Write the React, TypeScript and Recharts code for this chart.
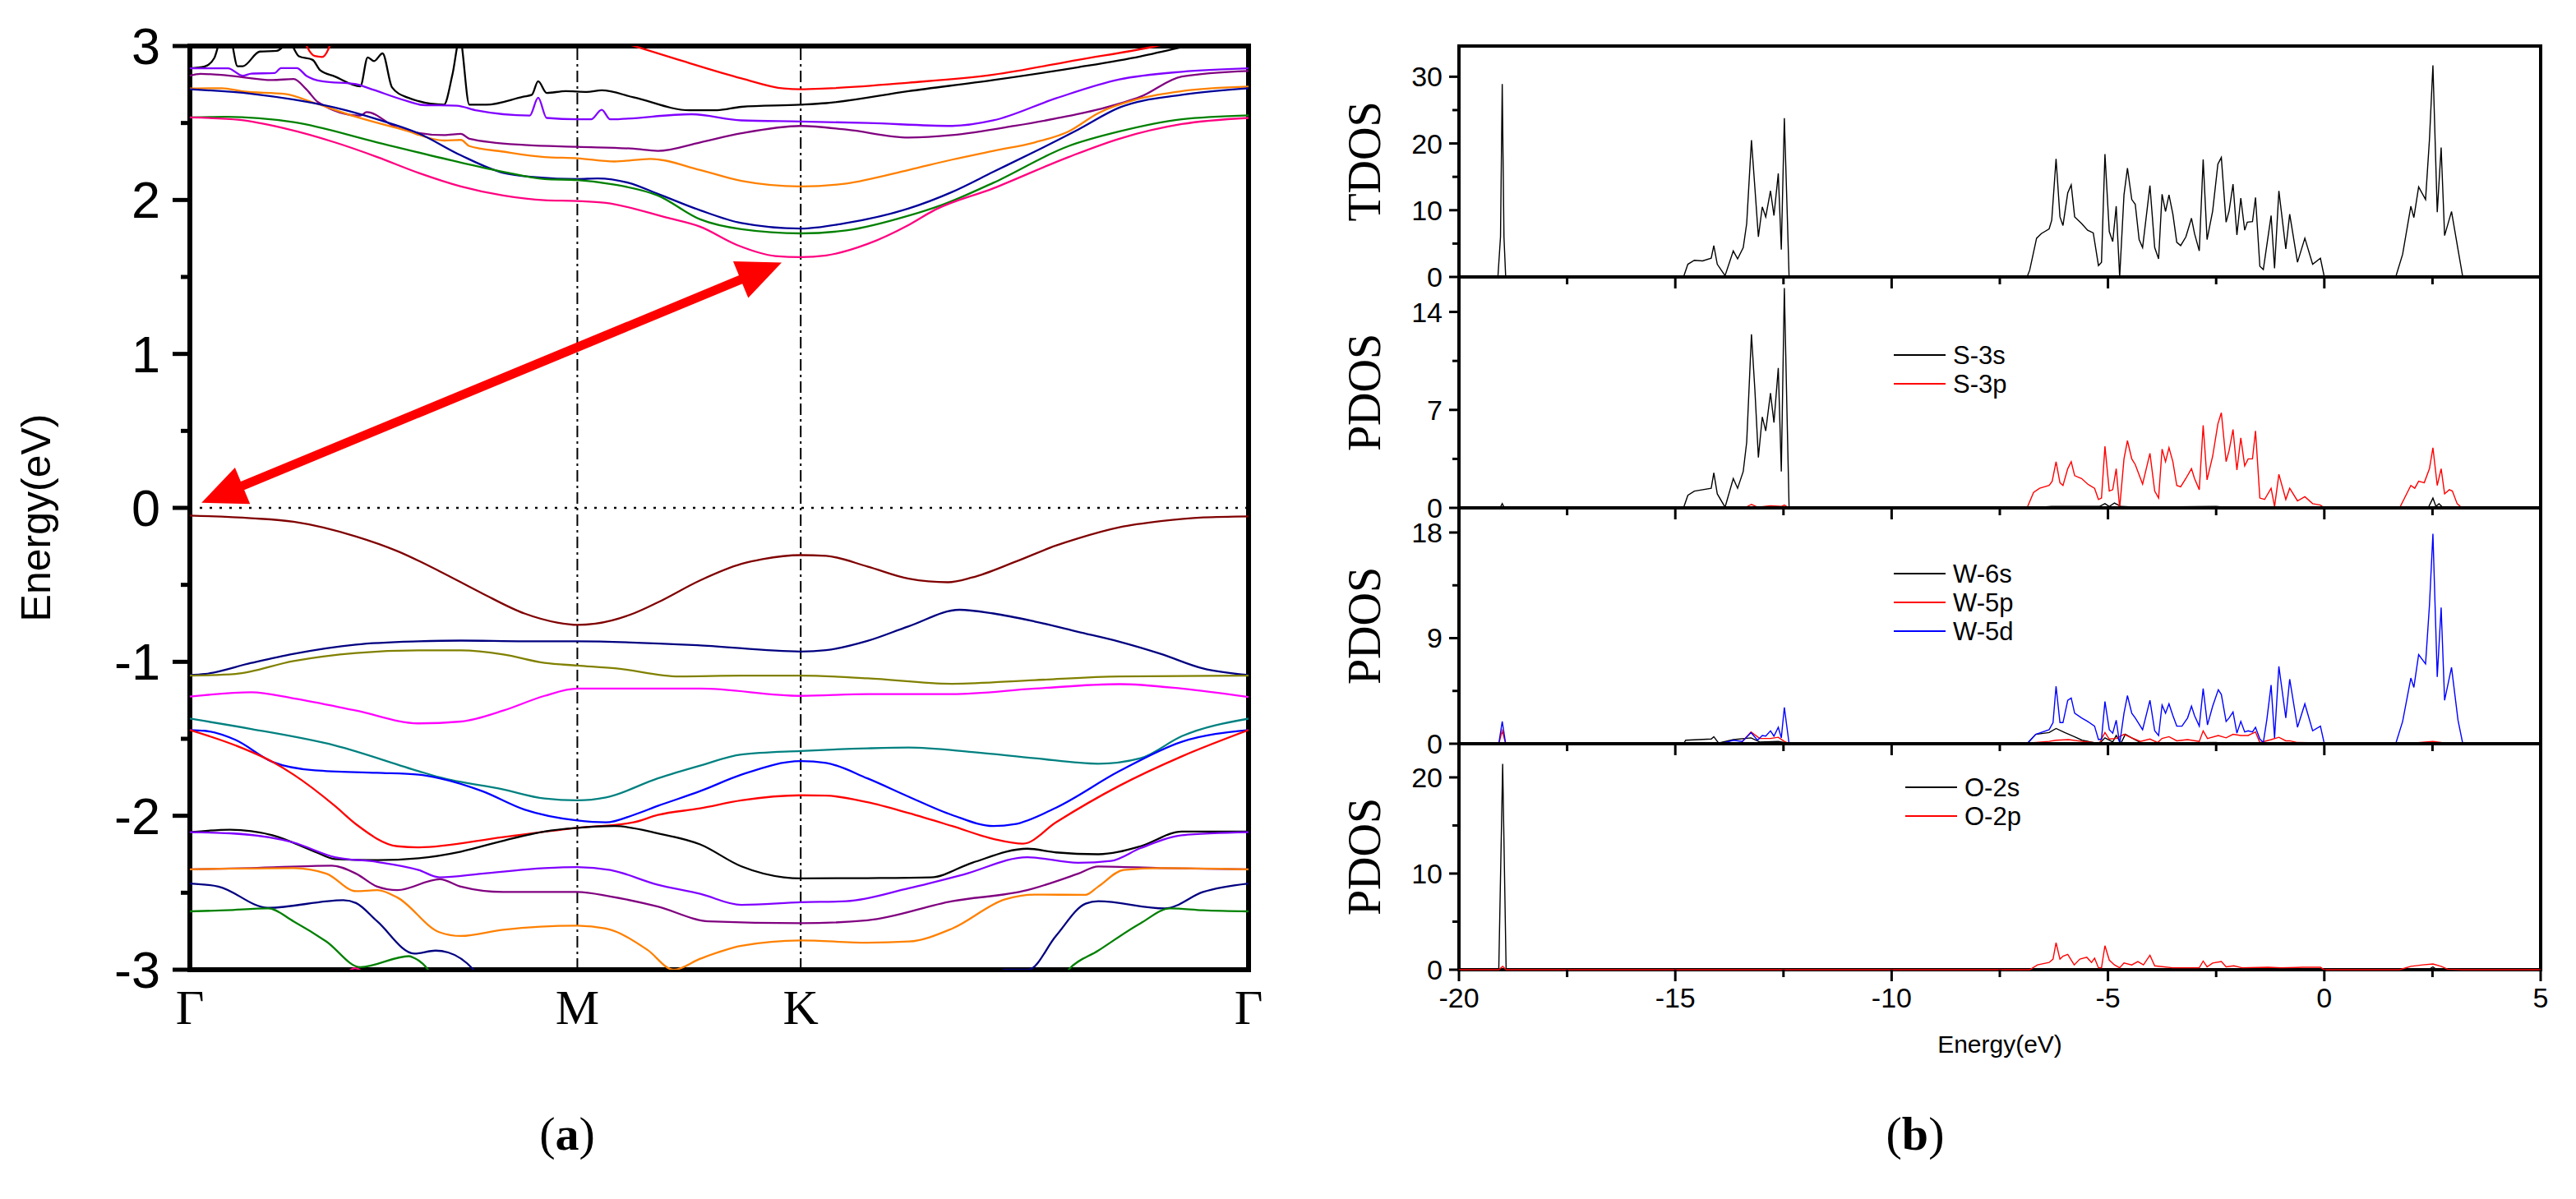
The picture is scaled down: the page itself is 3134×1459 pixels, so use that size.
import React from "react";
import {
  LineChart,
  Line,
  XAxis,
  YAxis,
  ReferenceLine,
  ReferenceArea,
  Legend,
} from "recharts";

const SANS = '"Liberation Sans", Arial, sans-serif';
const SERIF = '"Liberation Serif", "Times New Roman", serif';

type Pt = [number, number];
const pts = (a: Pt[]) => a.map(([x, y]) => ({ x, y }));

// ---------- (a) band structure ----------
const kTicks = [0, 0.366, 0.577, 1];
const kLabels = ["Γ", "M", "K", "Γ"];
const bandTicks = [-3, -2.5, -2, -1.5, -1, -0.5, 0, 0.5, 1, 1.5, 2, 2.5, 3];

// conduction bands
const cbPink: Pt[] = [[0,2.536],[0.047,2.52],[0.09,2.464],[0.137,2.374],[0.177,2.279],[0.216,2.176],[0.256,2.088],[0.296,2.029],[0.335,1.998],[0.366,1.993],[0.393,1.981],[0.45,1.886],[0.482,1.826],[0.517,1.707],[0.553,1.636],[0.577,1.629],[0.601,1.64],[0.64,1.714],[0.679,1.838],[0.703,1.933],[0.759,2.076],[0.83,2.279],[0.878,2.398],[0.937,2.493],[1,2.533]];
const cbGreen: Pt[] = [[0,2.536],[0.034,2.54],[0.098,2.505],[0.177,2.374],[0.256,2.243],[0.296,2.183],[0.335,2.136],[0.366,2.129],[0.401,2.1],[0.442,2.029],[0.482,1.874],[0.521,1.81],[0.577,1.783],[0.62,1.802],[0.679,1.898],[0.711,1.969],[0.759,2.112],[0.83,2.35],[0.878,2.445],[0.937,2.524],[1,2.55]];
const cbNavy: Pt[] = [[0,2.719],[0.058,2.69],[0.098,2.652],[0.137,2.6],[0.177,2.524],[0.216,2.433],[0.256,2.29],[0.296,2.176],[0.327,2.148],[0.366,2.136],[0.385,2.14],[0.414,2.112],[0.442,2.04],[0.482,1.933],[0.521,1.85],[0.577,1.814],[0.62,1.85],[0.679,1.945],[0.72,2.052],[0.759,2.183],[0.798,2.314],[0.839,2.457],[0.878,2.6],[0.937,2.683],[1,2.726]];
const cbOrange: Pt[] = [[0,2.724],[0.03,2.726],[0.05,2.705],[0.09,2.688],[0.118,2.629],[0.157,2.54],[0.201,2.457],[0.24,2.386],[0.256,2.39],[0.264,2.35],[0.296,2.314],[0.335,2.279],[0.366,2.271],[0.401,2.25],[0.435,2.267],[0.482,2.195],[0.521,2.124],[0.577,2.088],[0.62,2.107],[0.679,2.195],[0.72,2.262],[0.759,2.319],[0.798,2.374],[0.83,2.445],[0.858,2.564],[0.898,2.66],[0.937,2.707],[1,2.736]];
const cbPurple: Pt[] = [[0,2.807],[0.01,2.819],[0.034,2.81],[0.078,2.779],[0.098,2.786],[0.11,2.719],[0.121,2.636],[0.161,2.548],[0.167,2.571],[0.196,2.469],[0.24,2.421],[0.256,2.429],[0.264,2.398],[0.316,2.357],[0.366,2.345],[0.419,2.333],[0.442,2.319],[0.482,2.374],[0.521,2.433],[0.577,2.481],[0.62,2.457],[0.679,2.405],[0.72,2.421],[0.779,2.481],[0.818,2.529],[0.858,2.588],[0.898,2.671],[0.937,2.802],[1,2.838]];
const cbViolet: Pt[] = [[0,2.855],[0.036,2.855],[0.05,2.807],[0.058,2.821],[0.08,2.824],[0.086,2.857],[0.101,2.857],[0.11,2.807],[0.125,2.771],[0.157,2.752],[0.169,2.726],[0.205,2.643],[0.22,2.617],[0.252,2.612],[0.271,2.581],[0.321,2.548],[0.329,2.664],[0.337,2.533],[0.366,2.524],[0.379,2.524],[0.389,2.586],[0.397,2.524],[0.474,2.557],[0.521,2.517],[0.577,2.51],[0.64,2.5],[0.72,2.481],[0.759,2.517],[0.818,2.66],[0.878,2.783],[0.937,2.833],[1,2.855]];
const cbBlack: Pt[] = [[0,2.855],[0.014,2.867],[0.023,2.921],[0.03,3.05],[0.038,3.05],[0.045,2.869],[0.05,2.869],[0.066,2.964],[0.082,2.969],[0.094,3.02],[0.103,2.933],[0.116,2.91],[0.123,2.843],[0.137,2.802],[0.161,2.738],[0.168,2.926],[0.174,2.902],[0.182,2.952],[0.191,2.731],[0.205,2.667],[0.24,2.619],[0.248,2.814],[0.255,3.05],[0.264,2.619],[0.28,2.619],[0.315,2.671],[0.323,2.683],[0.329,2.771],[0.337,2.695],[0.355,2.707],[0.375,2.702],[0.389,2.712],[0.419,2.667],[0.472,2.583],[0.498,2.583],[0.521,2.605],[0.577,2.619],[0.601,2.629],[0.679,2.707],[0.759,2.779],[0.839,2.862],[0.898,2.933],[0.937,2.993],[1,3.1]];
const cbRedA: Pt[] = [[0.104,3.1],[0.118,2.935],[0.125,2.929],[0.137,3.1]];
const cbRedB: Pt[] = [[0.401,3.04],[0.462,2.91],[0.521,2.79],[0.561,2.724],[0.577,2.719],[0.601,2.724],[0.679,2.762],[0.759,2.814],[0.839,2.91],[0.913,3.0],[1,3.15]];

// valence bands
const vbMaroon: Pt[] = [[0,-0.05],[0.058,-0.067],[0.098,-0.09],[0.157,-0.186],[0.196,-0.281],[0.236,-0.412],[0.276,-0.555],[0.316,-0.686],[0.347,-0.745],[0.366,-0.76],[0.383,-0.752],[0.419,-0.686],[0.442,-0.614],[0.482,-0.471],[0.521,-0.364],[0.541,-0.333],[0.577,-0.307],[0.601,-0.312],[0.64,-0.381],[0.679,-0.46],[0.716,-0.483],[0.739,-0.452],[0.779,-0.352],[0.818,-0.245],[0.839,-0.198],[0.878,-0.126],[0.917,-0.086],[0.957,-0.062],[1,-0.055]];
const vbNavy: Pt[] = [[0,-1.086],[0.014,-1.079],[0.058,-1.007],[0.098,-0.948],[0.157,-0.888],[0.216,-0.867],[0.256,-0.862],[0.316,-0.867],[0.366,-0.867],[0.482,-0.893],[0.577,-0.933],[0.601,-0.924],[0.64,-0.864],[0.679,-0.769],[0.727,-0.662],[0.759,-0.686],[0.798,-0.738],[0.839,-0.805],[0.878,-0.869],[0.917,-0.948],[0.957,-1.043],[1,-1.086]];
const vbOlive: Pt[] = [[0,-1.09],[0.043,-1.079],[0.098,-0.995],[0.157,-0.943],[0.216,-0.926],[0.256,-0.926],[0.296,-0.952],[0.335,-1.007],[0.366,-1.024],[0.403,-1.043],[0.462,-1.095],[0.521,-1.09],[0.577,-1.09],[0.64,-1.107],[0.72,-1.143],[0.798,-1.119],[0.878,-1.095],[1,-1.09]];
const vbMagenta: Pt[] = [[0,-1.226],[0.058,-1.198],[0.098,-1.238],[0.157,-1.317],[0.216,-1.4],[0.256,-1.388],[0.296,-1.317],[0.335,-1.221],[0.366,-1.174],[0.482,-1.174],[0.577,-1.221],[0.64,-1.21],[0.72,-1.21],[0.798,-1.174],[0.878,-1.145],[0.937,-1.174],[1,-1.229]];
const vbTeal: Pt[] = [[0,-1.369],[0.058,-1.436],[0.137,-1.543],[0.216,-1.71],[0.236,-1.75],[0.296,-1.829],[0.335,-1.888],[0.366,-1.9],[0.393,-1.881],[0.442,-1.757],[0.482,-1.674],[0.521,-1.602],[0.577,-1.579],[0.64,-1.562],[0.679,-1.557],[0.739,-1.586],[0.798,-1.626],[0.858,-1.662],[0.898,-1.626],[0.937,-1.483],[1,-1.369]];
const vbBlue: Pt[] = [[0,-1.443],[0.014,-1.448],[0.043,-1.507],[0.078,-1.65],[0.118,-1.705],[0.177,-1.721],[0.216,-1.733],[0.236,-1.757],[0.276,-1.84],[0.316,-1.96],[0.366,-2.031],[0.393,-2.043],[0.419,-1.995],[0.442,-1.936],[0.482,-1.84],[0.521,-1.733],[0.577,-1.645],[0.601,-1.657],[0.64,-1.757],[0.679,-1.876],[0.72,-1.995],[0.759,-2.067],[0.779,-2.055],[0.818,-1.948],[0.878,-1.71],[0.937,-1.519],[1,-1.443]];
const vbRed: Pt[] = [[0,-1.443],[0.043,-1.543],[0.078,-1.65],[0.098,-1.733],[0.137,-1.936],[0.157,-2.055],[0.196,-2.198],[0.216,-2.205],[0.296,-2.138],[0.366,-2.079],[0.419,-2.043],[0.442,-1.995],[0.482,-1.952],[0.521,-1.9],[0.577,-1.867],[0.601,-1.869],[0.64,-1.912],[0.679,-1.983],[0.72,-2.067],[0.759,-2.15],[0.787,-2.181],[0.818,-2.043],[0.878,-1.805],[0.937,-1.614],[1,-1.443]];
const vbBlack: Pt[] = [[0,-2.107],[0.038,-2.09],[0.078,-2.126],[0.118,-2.233],[0.137,-2.281],[0.177,-2.288],[0.216,-2.276],[0.256,-2.233],[0.296,-2.162],[0.335,-2.102],[0.366,-2.079],[0.401,-2.067],[0.442,-2.114],[0.482,-2.186],[0.521,-2.329],[0.561,-2.4],[0.577,-2.407],[0.64,-2.405],[0.7,-2.4],[0.739,-2.305],[0.791,-2.214],[0.818,-2.238],[0.858,-2.25],[0.898,-2.198],[0.937,-2.102],[1,-2.102]];
const vbViolet: Pt[] = [[0,-2.107],[0.038,-2.114],[0.098,-2.174],[0.137,-2.269],[0.177,-2.3],[0.216,-2.352],[0.236,-2.4],[0.276,-2.376],[0.335,-2.34],[0.366,-2.333],[0.397,-2.352],[0.442,-2.448],[0.482,-2.507],[0.521,-2.579],[0.577,-2.562],[0.62,-2.555],[0.679,-2.471],[0.731,-2.381],[0.791,-2.269],[0.839,-2.305],[0.87,-2.293],[0.898,-2.21],[0.937,-2.126],[1,-2.107]];
const vbPurple: Pt[] = [[0,-2.348],[0.058,-2.34],[0.134,-2.324],[0.157,-2.376],[0.177,-2.46],[0.196,-2.483],[0.236,-2.412],[0.256,-2.46],[0.296,-2.495],[0.366,-2.495],[0.397,-2.524],[0.442,-2.59],[0.49,-2.686],[0.577,-2.698],[0.64,-2.679],[0.72,-2.555],[0.791,-2.483],[0.839,-2.376],[0.858,-2.329],[0.917,-2.34],[1,-2.348]];
const vbOrange: Pt[] = [[0,-2.348],[0.098,-2.34],[0.129,-2.376],[0.157,-2.49],[0.177,-2.483],[0.196,-2.531],[0.236,-2.757],[0.256,-2.781],[0.296,-2.74],[0.366,-2.714],[0.393,-2.733],[0.432,-2.87],[0.457,-3.0],[0.482,-2.929],[0.521,-2.845],[0.577,-2.81],[0.64,-2.824],[0.679,-2.817],[0.72,-2.733],[0.77,-2.543],[0.798,-2.512],[0.846,-2.514],[0.858,-2.46],[0.882,-2.352],[0.917,-2.34],[1,-2.348]];
const vbNavyLowA: Pt[] = [[0,-2.44],[0.027,-2.46],[0.074,-2.598],[0.145,-2.548],[0.157,-2.567],[0.177,-2.686],[0.212,-2.895],[0.232,-2.876],[0.244,-2.888],[0.268,-3.0],[0.284,-3.15]];
const vbNavyLowB: Pt[] = [[0.752,-3.15],[0.77,-3.0],[0.792,-3.0],[0.818,-2.781],[0.846,-2.571],[0.858,-2.555],[0.921,-2.602],[0.957,-2.495],[1,-2.44]];
const vbGreenA: Pt[] = [[0,-2.621],[0.034,-2.614],[0.074,-2.602],[0.098,-2.686],[0.129,-2.817],[0.161,-2.983],[0.207,-2.912],[0.212,-2.924],[0.225,-3.0],[0.237,-3.15]];
const vbGreenB: Pt[] = [[0.814,-3.15],[0.83,-3.0],[0.858,-2.876],[0.898,-2.698],[0.926,-2.602],[0.957,-2.614],[1,-2.621]];
const vbPinkLow: Pt[] = [[0.142,-3.08],[0.156,-2.99],[0.171,-3.08]];

const bands = [
  { id: "cbRedA", color: "#FF0000", data: cbRedA },
  { id: "cbRedB", color: "#FF0000", data: cbRedB },
  { id: "cbBlack", color: "#000000", data: cbBlack },
  { id: "cbViolet", color: "#8000FF", data: cbViolet },
  { id: "cbPurple", color: "#800080", data: cbPurple },
  { id: "cbOrange", color: "#FF8000", data: cbOrange },
  { id: "cbNavy", color: "#000099", data: cbNavy },
  { id: "cbGreen", color: "#008000", data: cbGreen },
  { id: "cbPink", color: "#FF0080", data: cbPink },
  { id: "vbMaroon", color: "#800000", data: vbMaroon },
  { id: "vbNavy", color: "#000080", data: vbNavy },
  { id: "vbOlive", color: "#808000", data: vbOlive },
  { id: "vbMagenta", color: "#FF00FF", data: vbMagenta },
  { id: "vbTeal", color: "#008080", data: vbTeal },
  { id: "vbBlue", color: "#0000FF", data: vbBlue },
  { id: "vbRed", color: "#FF0000", data: vbRed },
  { id: "vbBlack", color: "#000000", data: vbBlack },
  { id: "vbViolet", color: "#8000FF", data: vbViolet },
  { id: "vbPurple", color: "#800080", data: vbPurple },
  { id: "vbOrange", color: "#FF8000", data: vbOrange },
  { id: "vbNavyLowA", color: "#000080", data: vbNavyLowA },
  { id: "vbNavyLowB", color: "#000080", data: vbNavyLowB },
  { id: "vbGreenA", color: "#008000", data: vbGreenA },
  { id: "vbGreenB", color: "#008000", data: vbGreenB },
  { id: "vbPinkLow", color: "#FF0080", data: vbPinkLow },
];

// arrow between VBM (Γ) and CBM (K)
const gapArrow = [
  { x: 0.559, y: 1.593 },
  { x: 0.011, y: 0.033 },
];

// ---------- (b) density of states ----------
const dosTicks = [-20, -17.5, -15, -12.5, -10, -7.5, -5, -2.5, 0, 2.5, 5];

const tdos: Pt[] = [[-20,0],[-19.1,0],[-19.04,6],[-19.0,28.9],[-18.96,6],[-18.92,0],
  [-14.81,0],[-14.71,1.9],[-14.56,2.5],[-14.37,2.4],[-14.17,2.8],[-14.11,4.7],[-14.03,1.9],[-13.85,0.2],[-13.66,3.9],[-13.56,2.7],[-13.43,4.4],[-13.35,8.0],[-13.24,20.5],[-13.16,13.3],[-13.08,6.0],[-12.99,10.5],[-12.91,9.0],[-12.8,12.9],[-12.72,9.2],[-12.62,15.5],[-12.55,4.1],[-12.48,23.8],[-12.42,11],[-12.37,0],
  [-6.87,0],[-6.81,1.0],[-6.65,5.8],[-6.54,6.5],[-6.36,7.2],[-6.3,8.5],[-6.2,17.7],[-6.11,9.0],[-6.04,7.7],[-5.93,12.6],[-5.85,13.8],[-5.77,9.0],[-5.61,8.0],[-5.47,7.0],[-5.34,6.6],[-5.22,1.7],[-5.15,2.2],[-5.07,18.4],[-4.97,6.8],[-4.89,5.3],[-4.81,10.6],[-4.73,0],[-4.63,12.3],[-4.55,16.3],[-4.45,11.6],[-4.37,10.9],[-4.28,5.6],[-4.2,4.4],[-4.03,13.7],[-3.92,4.4],[-3.83,2.7],[-3.75,12.4],[-3.67,9.8],[-3.59,12.3],[-3.5,9.4],[-3.41,5.2],[-3.32,4.7],[-3.2,6.0],[-3.07,8.8],[-3.0,6.5],[-2.89,3.9],[-2.8,17.6],[-2.71,5.6],[-2.58,9.9],[-2.46,16.9],[-2.38,17.9],[-2.27,8.2],[-2.2,9.9],[-2.11,13.9],[-2.02,6.3],[-1.93,11.8],[-1.84,7.0],[-1.78,8.2],[-1.66,8.3],[-1.59,11.9],[-1.49,1.6],[-1.41,1.1],[-1.23,9.2],[-1.15,1.3],[-1.05,12.9],[-0.89,4.2],[-0.8,9.4],[-0.62,2.2],[-0.45,5.8],[-0.27,1.9],[-0.09,2.8],[0,0],
  [1.65,0],[1.81,3.4],[2.0,10.6],[2.07,8.9],[2.18,13.5],[2.34,11.6],[2.43,20.6],[2.51,31.7],[2.61,9.7],[2.7,19.4],[2.78,6.2],[2.94,9.8],[3.09,4.1],[3.2,0],[5,0]];

const s3s: Pt[] = [[-20,0],[-19.05,0],[-19.0,0.3],[-18.95,0],
  [-14.81,0],[-14.71,0.9],[-14.56,1.2],[-14.17,1.4],[-14.11,2.5],[-14.03,1.0],[-13.85,0.05],[-13.66,2.1],[-13.56,1.4],[-13.43,2.6],[-13.35,4.7],[-13.24,12.4],[-13.16,8.4],[-13.08,3.6],[-12.99,6.5],[-12.91,5.5],[-12.8,8.2],[-12.72,6.1],[-12.62,10.0],[-12.55,2.6],[-12.48,15.7],[-12.42,7],[-12.37,0],
  [-6.8,0],[-6.3,0.1],[-5.2,0.1],[-5.07,0.3],[-4.97,0.1],[-4.85,0.35],[-4.7,0.1],[-4.3,0.05],[-2.5,0.1],[-2.3,0.05],[0,0],
  [2.4,0],[2.51,0.7],[2.58,0.1],[2.65,0.3],[2.75,0],[5,0]];
const s3p: Pt[] = [[-20,0],[-13.4,0],[-13.24,0.25],[-13.1,0.05],[-12.8,0.15],[-12.55,0.1],[-12.48,0.2],[-12.37,0],
  [-6.87,0],[-6.72,1.1],[-6.58,1.4],[-6.36,1.6],[-6.29,1.9],[-6.2,3.3],[-6.11,1.8],[-6.04,1.6],[-5.93,2.8],[-5.85,3.3],[-5.77,2.3],[-5.61,2.1],[-5.47,1.7],[-5.31,1.4],[-5.22,0.6],[-5.15,0.7],[-5.07,4.4],[-4.97,1.2],[-4.89,1.3],[-4.81,2.8],[-4.73,0],[-4.63,3.5],[-4.55,4.8],[-4.45,3.5],[-4.37,3.1],[-4.2,1.7],[-4.03,3.9],[-3.92,1.2],[-3.83,0.7],[-3.75,4.2],[-3.67,3.3],[-3.59,4.3],[-3.5,3.3],[-3.41,1.6],[-3.32,1.5],[-3.2,2.1],[-3.07,2.8],[-3.0,2.1],[-2.89,1.3],[-2.8,5.9],[-2.71,2.0],[-2.58,3.7],[-2.46,6.0],[-2.38,6.8],[-2.27,3.3],[-2.2,4.1],[-2.11,5.6],[-2.02,2.7],[-1.93,5.0],[-1.84,3.0],[-1.76,3.5],[-1.66,3.5],[-1.59,5.5],[-1.49,0.7],[-1.38,0.6],[-1.23,1.4],[-1.15,0.1],[-1.05,2.4],[-0.89,0.6],[-0.8,1.4],[-0.62,0.5],[-0.45,0.8],[-0.27,0.3],[-0.09,0.2],[0,0],
  [1.74,0],[2.0,1.6],[2.09,1.4],[2.18,1.9],[2.31,1.8],[2.43,2.8],[2.51,4.3],[2.61,1.6],[2.7,2.8],[2.78,1.0],[2.89,1.3],[2.96,1.2],[3.07,0.3],[3.18,0],[5,0]];

const w6s: Pt[] = [[-20,0],[-14.81,0],[-14.76,0.3],[-14.17,0.4],[-14.11,0.6],[-14.0,0.05],[-13.66,0.35],[-13.25,0.5],[-13.05,0.15],[-12.62,0.2],[-12.45,0.1],[-12.37,0],
  [-6.87,0],[-6.67,0.8],[-6.36,0.95],[-6.2,1.3],[-6.0,0.95],[-5.78,0.6],[-5.6,0.3],[-5.2,0],[-5.07,0.5],[-4.89,0.15],[-4.81,0.7],[-4.7,0.05],[-4.6,0.8],[-4.4,0.4],[-4.22,0.05],[-2.5,0.1],[-2.4,0.05],[0,0],
  [2.4,0],[2.51,0.1],[2.6,0],[5,0]];
const w5p: Pt[] = [[-20,0],[-19.08,0],[-19.0,1.1],[-18.92,0],
  [-13.5,0],[-13.25,1.0],[-13.05,0.45],[-12.8,0.45],[-12.62,0.55],[-12.48,0.2],[-12.37,0],
  [-6.87,0],[-6.72,0.1],[-6.36,0.2],[-6.2,0.3],[-5.91,0.35],[-5.6,0.2],[-5.2,0.05],[-5.07,0.95],[-4.97,0.4],[-4.81,0.45],[-4.63,0.8],[-4.45,0.5],[-4.25,0.2],[-4.03,0.4],[-3.85,0.1],[-3.75,0.45],[-3.59,0.6],[-3.41,0.25],[-3.16,0.35],[-2.89,0.2],[-2.8,1.1],[-2.7,0.45],[-2.45,0.7],[-2.27,0.5],[-2.11,0.8],[-1.93,0.7],[-1.76,0.7],[-1.59,1.0],[-1.49,0.1],[-1.23,0.35],[-1.05,0.55],[-0.89,0.25],[-0.8,0.25],[-0.62,0.1],[-0.09,0.07],[0,0],
  [1.74,0],[2.1,0.07],[2.51,0.2],[2.8,0.05],[3.2,0],[5,0]];
const w5d: Pt[] = [[-20,0],[-19.08,0],[-19.0,1.9],[-18.92,0],
  [-14.81,0],[-14.2,0.05],[-13.9,0.05],[-13.66,0.3],[-13.45,0.2],[-13.25,0.95],[-13.1,0.3],[-12.99,0.7],[-12.91,0.65],[-12.8,1.1],[-12.72,0.65],[-12.62,1.4],[-12.55,0.5],[-12.48,3.1],[-12.37,0],
  [-6.87,0],[-6.67,0.8],[-6.36,1.2],[-6.27,1.8],[-6.2,4.9],[-6.11,1.8],[-6.04,1.8],[-5.93,3.7],[-5.85,3.9],[-5.77,2.6],[-5.61,2.2],[-5.47,1.9],[-5.31,1.5],[-5.22,0.35],[-5.15,0.4],[-5.07,3.6],[-4.97,1.2],[-4.89,0.9],[-4.81,2.0],[-4.73,0],[-4.63,2.6],[-4.55,4.1],[-4.45,2.6],[-4.37,2.2],[-4.2,1.2],[-4.03,3.7],[-3.92,1.1],[-3.83,0.7],[-3.75,3.3],[-3.67,2.6],[-3.59,3.4],[-3.5,2.4],[-3.41,1.5],[-3.29,1.5],[-3.16,2.2],[-3.07,3.2],[-3.0,2.4],[-2.89,1.5],[-2.8,4.7],[-2.7,1.6],[-2.58,3.2],[-2.45,4.6],[-2.38,4.2],[-2.27,1.9],[-2.2,2.2],[-2.11,2.7],[-2.02,0.9],[-1.93,1.9],[-1.84,1.0],[-1.76,1.1],[-1.66,1.0],[-1.59,1.4],[-1.49,0.4],[-1.41,0.1],[-1.33,2.0],[-1.23,5.0],[-1.15,0.5],[-1.05,6.6],[-0.89,2.2],[-0.8,5.5],[-0.62,1.4],[-0.45,3.4],[-0.27,1.1],[-0.09,1.5],[0,0],
  [1.65,0],[1.81,1.9],[2.0,5.6],[2.07,4.8],[2.18,7.6],[2.34,6.8],[2.43,11.8],[2.51,17.9],[2.61,5.7],[2.7,11.6],[2.78,3.7],[2.94,6.5],[3.09,2.0],[3.2,0],[5,0]];

const o2s: Pt[] = [[-20,0],[-19.08,0],[-18.99,21.4],[-18.91,0],[2.4,0],[2.51,0.3],[2.6,0],[5,0]];
const o2p: Pt[] = [[-20,0],[-19.08,0],[-18.99,0.35],[-18.91,0],
  [-6.81,0],[-6.63,0.5],[-6.36,0.75],[-6.27,1.1],[-6.2,2.8],[-6.11,1.1],[-6.04,1.4],[-5.93,1.6],[-5.78,0.5],[-5.65,1.1],[-5.49,1.3],[-5.38,0.75],[-5.31,1.2],[-5.22,0.2],[-5.15,0.2],[-5.07,2.5],[-4.97,1.0],[-4.85,0.5],[-4.73,0.2],[-4.63,0.7],[-4.45,0.5],[-4.31,0.85],[-4.18,0.5],[-4.03,1.5],[-3.92,0.4],[-3.51,0.2],[-2.89,0.2],[-2.8,0.9],[-2.71,0.3],[-2.58,0.7],[-2.38,0.85],[-2.27,0.3],[-2.09,0.4],[-1.9,0.2],[-1.3,0.25],[-1.0,0.2],[-0.5,0.25],[-0.09,0.25],[0,0],
  [1.74,0],[2.0,0.35],[2.27,0.5],[2.51,0.6],[2.7,0.35],[2.85,0.05],[3.2,0],[5,0]];

const tdosTicks = [0, 5, 10, 15, 20, 25, 30];
const tdosLabels = [0, 10, 20, 30];
const sTicks = [0, 3.5, 7, 10.5, 14];
const sLabels = [0, 7, 14];
const wTicks = [0, 4.5, 9, 13.5, 18];
const wLabels = [0, 9, 18];
const oTicks = [0, 5, 10, 15, 20];
const oLabels = [0, 10, 20];

// layout (px)
const BAND_W = 1570;
const BAND_H = 1300;
const DOS_LEFT = 1600;
const DOS_W = 1534;
const DOS_AXIS_W = 175;
const DOS_RIGHT_GAP = 43;
const panelTop = [56, 337, 618, 905];
const panelH = [281, 281, 287, 275];

const DoubleArrow = (p: any) => {
  const { x1, y1, x2, y2 } = p;
  const dx = x2 - x1;
  const dy = y2 - y1;
  const len = Math.hypot(dx, dy) || 1;
  const ux = dx / len;
  const uy = dy / len;
  const nx = -uy;
  const ny = ux;
  const head = 54;
  const half = 24;
  const tri = (tx: number, ty: number, dirx: number, diry: number) => {
    const bx = tx - dirx * head;
    const by = ty - diry * head;
    return `${tx},${ty} ${bx + nx * half},${by + ny * half} ${bx - nx * half},${by - ny * half}`;
  };
  return (
    <g>
      <line
        x1={x1 + ux * (head - 6)}
        y1={y1 + uy * (head - 6)}
        x2={x2 - ux * (head - 6)}
        y2={y2 - uy * (head - 6)}
        stroke="#FF0000"
        strokeWidth={11}
      />
      <polygon points={tri(x1, y1, -ux, -uy)} fill="#FF0000" />
      <polygon points={tri(x2, y2, ux, uy)} fill="#FF0000" />
    </g>
  );
};

const BandYTick = (p: any) => {
  const { x, y, payload } = p;
  const major = Number.isInteger(payload.value);
  return (
    <g>
      <line x1={x} x2={x - (major ? 21 : 11)} y1={y} y2={y} stroke="#000" strokeWidth={5} />
      {major && (
        <text x={x - 36} y={y} textAnchor="end" dominantBaseline="central" fontFamily={SANS} fontSize={63} fill="#000">
          {payload.value}
        </text>
      )}
    </g>
  );
};

const BandXTick = (p: any) => {
  const { x, y, payload } = p;
  const i = kTicks.indexOf(payload.value);
  return (
    <text x={x} y={y + 66} textAnchor="middle" fontFamily={SERIF} fontSize={60} fill="#000">
      {kLabels[i]}
    </text>
  );
};

const BandChart = () => (
  <div style={{ position: "absolute", left: 0, top: 0 }}>
    <LineChart width={BAND_W} height={BAND_H} margin={{ top: 56, right: 51, left: 0, bottom: 0 }}>
      <XAxis
        type="number"
        dataKey="x"
        domain={[0, 1]}
        ticks={kTicks}
        interval={0}
        allowDataOverflow
        axisLine={false}
        tickLine={false}
        tickSize={0}
        tickMargin={0}
        height={120}
        tick={BandXTick}
      />
      <YAxis
        type="number"
        domain={[-3, 3]}
        ticks={bandTicks}
        interval={0}
        allowDataOverflow
        axisLine={false}
        tickLine={false}
        tickSize={0}
        tickMargin={0}
        width={231}
        tick={BandYTick}
        label={() => (
          <text
            x={44}
            y={630}
            transform="rotate(-90 44 630)"
            textAnchor="middle"
            dominantBaseline="central"
            fontFamily={SANS}
            fontSize={50}
            fill="#000"
          >
            Energy(eV)
          </text>
        )}
      />
      <ReferenceLine y={0} stroke="#000" strokeWidth={2.5} strokeDasharray="3 9" />
      <ReferenceLine x={kTicks[1]} stroke="#000" strokeWidth={2} strokeDasharray="14 5 3 5" />
      <ReferenceLine x={kTicks[2]} stroke="#000" strokeWidth={2} strokeDasharray="14 5 3 5" />
      {bands.map((b) => (
        <Line
          key={b.id}
          data={pts(b.data)}
          dataKey="y"
          type="monotone"
          stroke={b.color}
          strokeWidth={2.3}
          dot={false}
          activeDot={false}
          isAnimationActive={false}
        />
      ))}
      <ReferenceLine segment={gapArrow} shape={DoubleArrow} ifOverflow="visible" />
      <ReferenceArea x1={0} x2={1} y1={-3} y2={3} fill="none" stroke="#000" strokeWidth={6} ifOverflow="visible" />
    </LineChart>
  </div>
);

const makeDosYTick = (labels: number[]) => (p: any) => {
  const { x, y, payload } = p;
  const major = labels.includes(payload.value);
  return (
    <g>
      <line x1={x} x2={x - (major ? 12 : 8)} y1={y} y2={y} stroke="#000" strokeWidth={3} />
      {major && (
        <text x={x - 20} y={y} textAnchor="end" dominantBaseline="central" fontFamily={SANS} fontSize={34} fill="#000">
          {payload.value}
        </text>
      )}
    </g>
  );
};

const makeDosXTick = (showLabel: boolean) => (p: any) => {
  const { x, y, payload } = p;
  const major = payload.value % 5 === 0;
  return (
    <g>
      <line x1={x} x2={x} y1={y} y2={y + (major ? 14 : 9)} stroke="#000" strokeWidth={3} />
      {showLabel && major && (
        <text x={x} y={y + 46} textAnchor="middle" fontFamily={SANS} fontSize={34} fill="#000">
          {payload.value}
        </text>
      )}
    </g>
  );
};

const makeDosLegend = (order: string[]) => (p: any) => {
  const items = [...(p.payload || [])].sort(
    (a: any, b: any) => order.indexOf(a.value) - order.indexOf(b.value)
  );
  return (
    <div>
      {items.map((e: any) => (
        <div key={e.value} style={{ display: "flex", alignItems: "center", height: 35 }}>
          <span style={{ display: "inline-block", width: 63, borderTop: `2px solid ${e.color}`, marginRight: 9 }} />
          <span style={{ fontFamily: SANS, fontSize: 31, color: "#000", lineHeight: "35px" }}>{e.value}</span>
        </div>
      ))}
    </div>
  );
};

type Series = { name: string; color: string; data: Pt[] };

const DosPanel = ({
  index,
  yMax,
  ticks,
  labels,
  title,
  series,
  legend,
}: {
  index: number;
  yMax: number;
  ticks: number[];
  labels: number[];
  title: string;
  series: Series[];
  legend?: { x: number; y: number };
}) => {
  const bottom = index === 3;
  const axisH = bottom ? 120 : 20;
  const ph = panelH[index];
  const chartTop = panelTop[index] - 10;
  const h = 10 + ph + axisH;
  const midY = 10 + ph / 2;
  const plotMidX = DOS_AXIS_W + (DOS_W - DOS_AXIS_W - DOS_RIGHT_GAP) / 2;
  return (
    <div style={{ position: "absolute", left: DOS_LEFT, top: chartTop }}>
      <LineChart width={DOS_W} height={h} margin={{ top: 10, right: DOS_RIGHT_GAP, left: 0, bottom: 0 }}>
        <ReferenceArea x1={-20} x2={5} y1={0} y2={yMax} fill="none" stroke="#000" strokeWidth={4} ifOverflow="visible" />
        <XAxis
          type="number"
          dataKey="x"
          domain={[-20, 5]}
          ticks={dosTicks}
          interval={0}
          axisLine={false}
          tickLine={false}
          tickSize={0}
          tickMargin={0}
          height={axisH}
          tick={makeDosXTick(bottom)}
          label={
            bottom
              ? () => (
                  <text x={plotMidX} y={386} textAnchor="middle" fontFamily={SANS} fontSize={30} fill="#000">
                    Energy(eV)
                  </text>
                )
              : undefined
          }
        />
        <YAxis
          type="number"
          domain={[0, yMax]}
          ticks={ticks}
          interval={0}
          axisLine={false}
          tickLine={false}
          tickSize={0}
          tickMargin={0}
          width={DOS_AXIS_W}
          tick={makeDosYTick(labels)}
          label={() => (
            <text
              x={60}
              y={midY}
              transform={`rotate(-90 60 ${midY})`}
              textAnchor="middle"
              dominantBaseline="central"
              fontFamily={SERIF}
              fontSize={56}
              fill="#000"
            >
              {title}
            </text>
          )}
        />
        {series.map((s) => (
          <Line
            key={s.name}
            name={s.name}
            data={pts(s.data)}
            dataKey="y"
            type="linear"
            stroke={s.color}
            strokeWidth={1.4}
            dot={false}
            activeDot={false}
            isAnimationActive={false}
          />
        ))}
        {legend && (
          <Legend
            layout="horizontal"
            verticalAlign="middle"
            align="center"
            content={makeDosLegend(series.map((s) => s.name))}
            wrapperStyle={{
              left: legend.x - DOS_LEFT,
              top: legend.y - chartTop - 17.5,
              width: "auto",
              height: "auto",
            }}
          />
        )}
      </LineChart>
    </div>
  );
};

export default function App() {
  return (
    <div style={{ position: "relative", width: 3134, height: 1459, background: "#fff", overflow: "hidden" }}>
      <style>{"body{margin:0;}"}</style>
      <BandChart />
      <DosPanel index={0} yMax={34.6} ticks={tdosTicks} labels={tdosLabels} title="TDOS" series={[{ name: "TDOS", color: "#000000", data: tdos }]} />
      <DosPanel
        index={1}
        yMax={16.5}
        ticks={sTicks}
        labels={sLabels}
        title="PDOS"
        series={[
          { name: "S-3s", color: "#000000", data: s3s },
          { name: "S-3p", color: "#FF0000", data: s3p },
        ]}
        legend={{ x: 2304, y: 432 }}
      />
      <DosPanel
        index={2}
        yMax={20.1}
        ticks={wTicks}
        labels={wLabels}
        title="PDOS"
        series={[
          { name: "W-6s", color: "#000000", data: w6s },
          { name: "W-5p", color: "#FF0000", data: w5p },
          { name: "W-5d", color: "#0000FF", data: w5d },
        ]}
        legend={{ x: 2304, y: 698 }}
      />
      <DosPanel
        index={3}
        yMax={23.5}
        ticks={oTicks}
        labels={oLabels}
        title="PDOS"
        series={[
          { name: "O-2s", color: "#000000", data: o2s },
          { name: "O-2p", color: "#FF0000", data: o2p },
        ]}
        legend={{ x: 2318, y: 958 }}
      />
      <div style={{ position: "absolute", left: 690, top: 1380, transform: "translate(-50%, -50%)", fontFamily: SERIF, fontSize: 58, lineHeight: 1 }}>
        (<b>a</b>)
      </div>
      <div style={{ position: "absolute", left: 2330, top: 1380, transform: "translate(-50%, -50%)", fontFamily: SERIF, fontSize: 58, lineHeight: 1 }}>
        (<b>b</b>)
      </div>
    </div>
  );
}
